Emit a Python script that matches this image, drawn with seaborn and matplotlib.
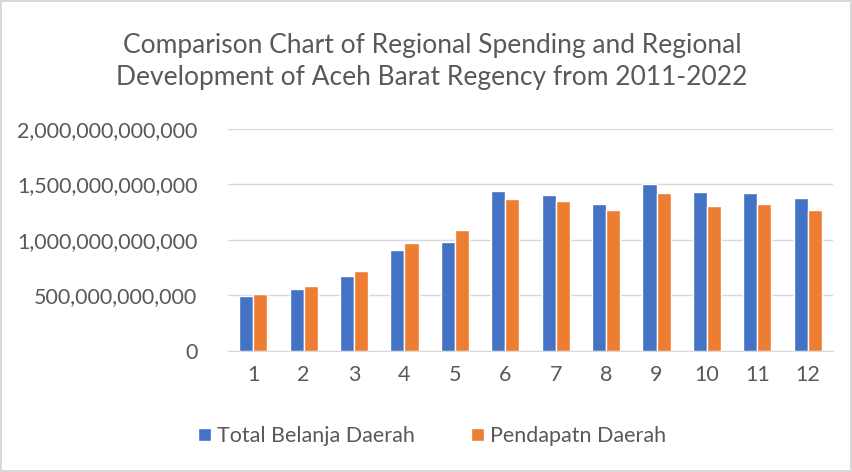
import matplotlib
matplotlib.use('Agg')
import matplotlib.pyplot as plt
import seaborn as sns
import pandas as pd
from matplotlib.ticker import FuncFormatter

# data
years = [str(i) for i in range(1, 13)]
belanja = [0.495e12, 0.562e12, 0.679e12, 0.907e12, 0.979e12, 1.445e12,
           1.409e12, 1.324e12, 1.505e12, 1.430e12, 1.421e12, 1.382e12]
pendapatan = [0.511e12, 0.589e12, 0.718e12, 0.973e12, 1.094e12, 1.367e12,
              1.349e12, 1.274e12, 1.421e12, 1.306e12, 1.322e12, 1.274e12]
series_names = ['Total Belanja Daerah', 'Pendapatn Daerah']
colors = ['#4472C4', '#ED7D31']

df = pd.DataFrame({
    'Tahun': years * 2,
    'Nilai': belanja + pendapatan,
    'Seri': [series_names[0]] * 12 + [series_names[1]] * 12,
})

sns.set_style('white')
plt.rcParams['font.family'] = ['Lato', 'DejaVu Sans']
txt = '#595959'

fig = plt.figure(figsize=(8.52, 4.72), dpi=100)
fig.patch.set_edgecolor('#D9D9D9')
fig.patch.set_linewidth(1.5)
ax = fig.add_axes([0.2676, 0.2564, 0.7101, 0.4703])

sns.barplot(data=df, x='Tahun', y='Nilai', hue='Seri', palette=colors,
            saturation=1, width=0.56, gap=0, ax=ax, legend=True)

ax.set_ylim(0, 2e12)
ax.set_yticks([0, 0.5e12, 1e12, 1.5e12, 2e12])
ax.yaxis.set_major_formatter(FuncFormatter(lambda v, p: f'{v:,.0f}'))
ax.grid(axis='y', color='#D9D9D9', linewidth=1)
ax.set_axisbelow(True)
for s in ['top', 'right', 'left']:
    ax.spines[s].set_visible(False)
ax.spines['bottom'].set_color('#D9D9D9')
ax.tick_params(axis='both', colors=txt, labelsize=15.5, length=0)
ax.tick_params(axis='y', pad=22)
ax.tick_params(axis='x', pad=10)
ax.set_xlabel('')
ax.set_ylabel('')

handles, labels = ax.get_legend_handles_labels()
ax.get_legend().remove()
fig.legend(handles, labels, loc='center', bbox_to_anchor=(0.507, 1 - 436 / 472),
           ncol=2, frameon=False, fontsize=15.5, labelcolor=txt,
           handlelength=0.6, handleheight=0.6, handletextpad=0.3, columnspacing=2.6)

fig.text(0.507, 1 - 62 / 472,
         'Comparison Chart of Regional Spending and Regional\nDevelopment of Aceh Barat Regency from 2011-2022',
         ha='center', va='center', fontsize=19, color=txt, linespacing=1.35)

fig.savefig('out.png', dpi=100)
